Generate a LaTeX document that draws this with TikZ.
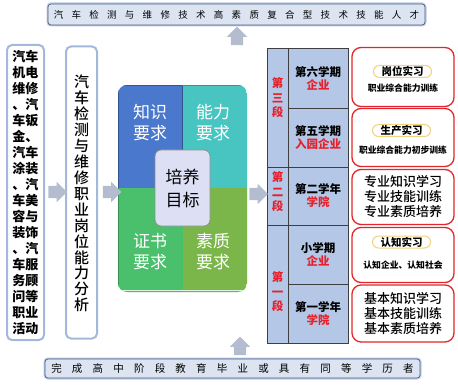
\documentclass[tikz,border=0pt]{standalone}
\usepackage{fontspec}
\setmainfont{Noto Sans CJK SC}
\newfontfamily\cjkmed{Noto Sans CJK SC Medium}
\usetikzlibrary{shapes.arrows}
\definecolor{bannerfill}{HTML}{DCE4F2}
\definecolor{bannerline}{HTML}{4F5D7A}
\definecolor{glow}{HTML}{B9CBEA}
\definecolor{boxline}{HTML}{A3B8DD}
\definecolor{arrowc}{HTML}{B3BDCF}
\definecolor{tabfill}{HTML}{B4C7E7}
\definecolor{tabline}{HTML}{3F3F3F}
\definecolor{redc}{HTML}{E3262B}
\definecolor{redtxt}{HTML}{E8202A}
\definecolor{pillc}{HTML}{F2D27E}
\definecolor{qblue}{HTML}{4A78CC}
\definecolor{qteal}{HTML}{48C5C1}
\definecolor{qgreen}{HTML}{4ABF6C}
\definecolor{qolive}{HTML}{7BB64A}
\definecolor{goalfill}{HTML}{DDE0F4}
\newcommand{\gapA}{\hspace{8.3pt}}
\newcommand{\gapB}{\hspace{10.2pt}}
\begin{document}
\begin{tikzpicture}[x=1pt,y=-1pt,
  banner/.style={draw=bannerline, line width=0.7pt, fill=bannerfill, rounded corners=3pt,
     preaction={draw=glow, line width=3pt}, inner sep=0pt},
  sidebox/.style={draw=boxline, line width=2pt, fill=white, rounded corners=5pt, inner sep=0pt},
  blockarrow/.style={shape=single arrow, fill=arrowc, draw=none, inner sep=6pt,
     single arrow head extend=4pt, single arrow tip angle=90, outer sep=0pt},
  cell/.style={draw=tabline, line width=0.8pt, fill=tabfill, inner sep=0pt, outer sep=0pt,
     minimum width=#1, align=center, font=\fontsize{11.5}{13}\selectfont\bfseries},
  stagetxt/.style={text=redtxt, align=center, font=\fontsize{11.5}{14.5}\selectfont\bfseries},
  redbox/.style={draw=redc, line width=1.3pt, fill=white, rounded corners=9pt,
     minimum width=102pt, inner sep=0pt},
  pill/.style={draw=pillc, line width=1pt, fill=white, rounded corners=6pt,
     minimum width=58pt, minimum height=12pt, inner sep=0pt,
     font=\fontsize{10.5}{12}\selectfont\bfseries},
  subtxt/.style={font=\fontsize{8.8}{10}\selectfont\bfseries},
  bigtxt/.style={align=center, font=\fontsize{13}{15}\selectfont\cjkmed},
  quadtxt/.style={text=white, align=center, font=\fontsize{17}{21}\selectfont},
]
\useasboundingbox (0,0) rectangle (458,385);

% banners
\node[banner, minimum width=377pt, minimum height=21pt, font=\fontsize{9.5}{11}\selectfont] (top) at (236.5,14.5)
  {汽\gapA 车\gapA 检\gapA 测\gapA 与\gapA 维\gapA 修\gapA 技\gapA 术\gapA 高\gapA 素\gapA 质\gapA 复\gapA 合\gapA 型\gapA 技\gapA 术\gapA 技\gapA 能\gapA 人\gapA 才};
\node[banner, minimum width=375pt, minimum height=19pt, font=\fontsize{10.5}{12}\selectfont] (bottom) at (232.5,368.5)
  {完\gapB 成\gapB 高\gapB 中\gapB 阶\gapB 段\gapB 教\gapB 育\gapB 毕\gapB 业\gapB 或\gapB 具\gapB 有\gapB 同\gapB 等\gapB 学\gapB 历\gapB 者};

% left boxes
\node[sidebox, minimum width=37pt, minimum height=295pt] (jobs) at (25.5,192.5) {};
\node[align=center, font=\fontsize{13}{15.95}\selectfont\bfseries] (jobstxt) at (25.5,192.5)
  {汽车\\机电\\维修\\、汽\\车钣\\金、\\汽车\\涂装\\、汽\\车美\\容与\\装饰\\、汽\\车服\\务顾\\问等\\职业\\活动};
\node[sidebox, minimum width=31pt, minimum height=292pt] (anal) at (81.5,192.5) {};
\node[align=center, font=\fontsize{15}{15.95}\selectfont\cjkmed] (analtxt) at (81.5,193.5)
  {汽\\车\\检\\测\\与\\维\\修\\职\\业\\岗\\位\\能\\力\\分\\析};

% quadrant block
\node[minimum width=129pt, minimum height=207pt, inner sep=0pt] (quad) at (182.5,188.5) {};
\begin{scope}
  \clip[rounded corners=9pt] (118,85) rectangle (247,292);
  \fill[qblue] (118,85) rectangle (182,188);
  \fill[qteal] (182,85) rectangle (247,188);
  \fill[qgreen] (118,188) rectangle (183,292);
  \fill[qolive] (183,188) rectangle (247,292);
  \draw[qblue!70!black, line width=0.7pt] (118,188) -- (118,85) -- (182,85) -- (182,188);
  \draw[qteal!75!black, line width=0.7pt] (182,85) -- (247,85) -- (247,188);
  \draw[qgreen!75!black, line width=0.7pt] (118,188) -- (118,292) -- (183,292);
  \draw[qolive!75!black, line width=0.7pt] (183,292) -- (247,292) -- (247,188);
  \draw[white!80!qgreen, line width=1.2pt] (120,290.5) -- (245,290.5);
\end{scope}
\node[quadtxt] (know) at (150,123) {知识\\要求};
\node[quadtxt] (abil) at (213,123) {能力\\要求};
\node[quadtxt] (cert) at (150,252) {证书\\要求};
\node[quadtxt] (qual) at (213,252) {素质\\要求};
\node[draw=black!45, line width=0.8pt, fill=goalfill, rounded corners=6pt,
  minimum width=55pt, minimum height=76pt, inner sep=0pt, align=center,
  font=\fontsize{17}{23}\selectfont] (goal) at (182.5,188) {培养\\目标};

% stage table
\node[cell=21pt, minimum height=119pt, anchor=north west] (s3) at (267,48) {};
\node[cell=21pt, minimum height=58pt, anchor=north west] (s2) at (267,167) {};
\node[cell=21pt, minimum height=118pt, anchor=north west] (s1) at (267,225) {};
\node[stagetxt] (s3t) at (277.5,98) {第\\三\\段};
\node[stagetxt] (s2t) at (277.5,192) {第\\二\\段};
\node[stagetxt] (s1t) at (277.5,292) {第\\一\\段};
\node[cell=60pt, minimum height=60pt, anchor=north west] (r6) at (288,48) {第六学期\\\textcolor{redtxt}{企业}};
\node[cell=60pt, minimum height=59pt, anchor=north west] (r5) at (288,108) {第五学期\\\textcolor{redtxt}{入园企业}};
\node[cell=60pt, minimum height=58pt, anchor=north west] (r2) at (288,167) {第二学年\\\textcolor{redtxt}{学院}};
\node[cell=60pt, minimum height=59pt, anchor=north west] (rs) at (288,225) {小学期\\\textcolor{redtxt}{企业}};
\node[cell=60pt, minimum height=59pt, anchor=north west] (r1) at (288,284) {第一学年\\\textcolor{redtxt}{学院}};

% right boxes
\node[redbox, minimum height=59pt] (b6) at (403,77) {};
\node[pill] (p6) at (402.5,71.5) {岗位实习};
\node[subtxt] (t6) at (403,88) {职业综合能力训练};
\node[redbox, minimum height=58pt] (b5) at (403,137.5) {};
\node[pill] (p5) at (401.5,130.5) {生产实习};
\node[subtxt] (t5) at (403,150) {职业综合能力初步训练};
\node[redbox, minimum height=55pt, bigtxt] (b2) at (403,197) {专业知识学习\\专业技能训练\\专业素质培养};
\node[redbox, minimum height=55pt] (bs) at (403,255) {};
\node[pill] (ps) at (401.5,242) {认知实习};
\node[subtxt] (ts) at (403,265) {认知企业、认知社会};
\node[redbox, minimum height=57pt, bigtxt] (b1) at (403,313.5) {基本知识学习\\基本技能训练\\基本素质培养};

% block arrows
\node[blockarrow, minimum height=16pt] (a1) at (54.5,192) {};
\node[blockarrow, minimum height=16pt] (a2) at (109,192) {};
\node[blockarrow, minimum height=16pt] (a3) at (255.5,194) {};
\node[blockarrow, minimum height=17pt, shape border rotate=90] (u1) at (237,39) {};
\node[blockarrow, minimum height=18pt, shape border rotate=90] (u2) at (240,349) {};
\end{tikzpicture}
\end{document}
